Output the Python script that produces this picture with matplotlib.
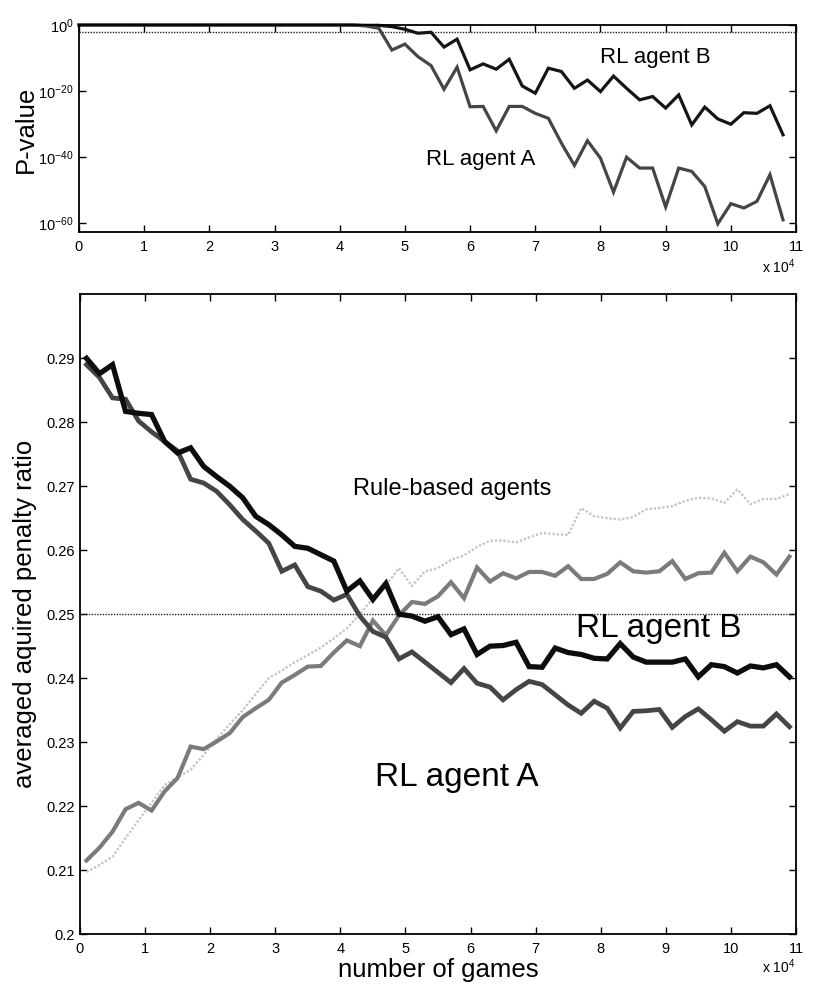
import numpy as np
import matplotlib
matplotlib.use('Agg')
import matplotlib.pyplot as plt
from matplotlib.ticker import FuncFormatter, NullLocator

plt.rcParams['font.family'] = ['Liberation Sans', 'DejaVu Sans']
plt.rcParams['mathtext.fontset'] = 'custom'
plt.rcParams['mathtext.rm'] = 'Liberation Sans'

# ---- P-value of the RL agents vs. rule-based agents (log10 of p) ----
games_p = np.arange(0, 110000, 2000)
log_p_a = [0] * 22 + [-0.3, -1.0, -7.6, -5.8, -9.6, -12.3, -19.5, -12.8, -24.8, -24.7,
                      -32.1, -24.7, -24.7, -26.8, -28.3, -35.8, -42.6, -35.1, -40.4, -50.7,
                      -40.1, -43.4, -43.4, -55.2, -43.4, -44.4, -49.0, -60.3, -54.2, -55.5,
                      -53.5, -45.4, -59.1]
log_p_b = [0] * 22 + [-0.1, -0.1, -0.5, -1.3, -2.5, -2.2, -6.7, -4.3, -13.6, -11.8,
                      -13.4, -10.4, -18.5, -20.7, -13.1, -14.1, -19.2, -16.7, -20.2, -15.5,
                      -19.2, -22.7, -21.7, -25.2, -21.2, -30.3, -24.9, -28.5, -30.1, -26.6,
                      -26.8, -24.5, -33.3]
p_level = 0.01

# ---- averaged aquired penalty ratio ----
games = np.arange(1000, 110000, 2000)
rl_b = [0.2900, 0.2876, 0.2890, 0.2817, 0.2814, 0.2812, 0.2770, 0.2752, 0.2760, 0.2731,
        0.2715, 0.2700, 0.2682, 0.2653, 0.2640, 0.2624, 0.2606, 0.2603, 0.2593, 0.2583,
        0.2536, 0.2552, 0.2523, 0.2548, 0.2500, 0.2497, 0.2489, 0.2496, 0.2468, 0.2477,
        0.2437, 0.2450, 0.2451, 0.2456, 0.2418, 0.2417, 0.2447, 0.2440, 0.2437, 0.2431,
        0.2430, 0.2454, 0.2433, 0.2425, 0.2425, 0.2425, 0.2430, 0.2402, 0.2421, 0.2418,
        0.2408, 0.2419, 0.2416, 0.2421, 0.2402]
rl_a = [0.2890, 0.2870, 0.2838, 0.2836, 0.2802, 0.2785, 0.2770, 0.2755, 0.2711, 0.2705,
        0.2692, 0.2671, 0.2648, 0.2630, 0.2611, 0.2567, 0.2577, 0.2543, 0.2536, 0.2522,
        0.2531, 0.2497, 0.2473, 0.2464, 0.2430, 0.2441, 0.2425, 0.2409, 0.2393, 0.2415,
        0.2392, 0.2386, 0.2366, 0.2382, 0.2395, 0.2390, 0.2374, 0.2358, 0.2345, 0.2364,
        0.2353, 0.2322, 0.2348, 0.2349, 0.2351, 0.2323, 0.2340, 0.2352, 0.2335, 0.2317,
        0.2332, 0.2325, 0.2325, 0.2344, 0.2324]
rule_1 = [0.2115, 0.2135, 0.2160, 0.2195, 0.2205, 0.2193, 0.2223, 0.2244, 0.2293, 0.2289,
          0.2301, 0.2314, 0.2339, 0.2353, 0.2366, 0.2393, 0.2405, 0.2418, 0.2419, 0.2440,
          0.2459, 0.2450, 0.2490, 0.2467, 0.2498, 0.2519, 0.2516, 0.2528, 0.2550, 0.2525,
          0.2573, 0.2551, 0.2564, 0.2556, 0.2566, 0.2566, 0.2560, 0.2575, 0.2555, 0.2555,
          0.2563, 0.2581, 0.2567, 0.2565, 0.2567, 0.2583, 0.2555, 0.2564, 0.2565, 0.2596,
          0.2567, 0.2590, 0.2581, 0.2562, 0.2590]
rule_2 = [0.2097, 0.2108, 0.2121, 0.2150, 0.2178, 0.2205, 0.2233, 0.2245, 0.2257, 0.2280,
          0.2305, 0.2328, 0.2350, 0.2375, 0.2400, 0.2412, 0.2425, 0.2436, 0.2448, 0.2462,
          0.2478, 0.2500, 0.2525, 0.2545, 0.2572, 0.2544, 0.2567, 0.2572, 0.2585, 0.2592,
          0.2605, 0.2615, 0.2615, 0.2612, 0.2620, 0.2627, 0.2625, 0.2624, 0.2666, 0.2653,
          0.2650, 0.2648, 0.2652, 0.2664, 0.2666, 0.2669, 0.2677, 0.2682, 0.2681, 0.2674,
          0.2695, 0.2672, 0.2680, 0.2680, 0.2688]
chance_level = 0.25

xticks = np.arange(0, 120000, 10000)
to_e4 = FuncFormatter(lambda v, pos: '%d' % round(v / 1e4))


def style_axes(ax):
    ax.set_xlim(0, 110000)
    ax.set_xticks(xticks)
    ax.xaxis.set_major_formatter(to_e4)
    ax.tick_params(direction='in', length=5, width=1, top=True, right=True,
                   labelsize=10.5, pad=6)
    ax.tick_params(axis='y', pad=4)
    for s in ax.spines.values():
        s.set_linewidth(1.3)


fig = plt.figure(figsize=(8.28, 9.84), dpi=100)

# top: p-values
ax1 = fig.add_axes([0.0954, 0.7642, 0.866, 0.2104])
ax1.set_yscale('log')
ax1.axhline(p_level, color='#222222', lw=1, ls=(0, (1, 1)))
ax1.plot(games_p, 10.0 ** np.array(log_p_b), color='#151515', lw=2.3,
         solid_joinstyle='miter', clip_on=False)
ax1.plot(games_p, 10.0 ** np.array(log_p_a), color='#454545', lw=2.3,
         solid_joinstyle='miter', clip_on=False)
ax1.set_ylim(10 ** -62.8, 1)
ax1.set_yticks([1e-60, 1e-40, 1e-20, 1e0])
ax1.yaxis.set_minor_locator(NullLocator())
style_axes(ax1)
ax1.text(80000, 10 ** -11.4, 'RL agent B', fontsize=16, va='baseline')
ax1.text(53200, 10 ** -42.4, 'RL agent A', fontsize=16, va='baseline')
fig.text(33 / 828, 1 - 129 / 984, 'P-value', fontsize=18.5, rotation=90,
         ha='center', va='baseline', rotation_mode='anchor')
fig.text(762 / 828, 1 - 273 / 984, r'x 10$^{4}$', fontsize=10)

# bottom: penalty ratio
ax2 = fig.add_axes([0.0966, 0.0508, 0.8647, 0.6501])
ax2.axhline(chance_level, color='#222222', lw=1, ls=(0, (1, 1)))
ax2.plot(games, rule_2, color='#c6c6c6', lw=1.7, ls=(0, (1, 0.8)))
ax2.plot(games, rule_1, color='#7b7b7b', lw=3.0, solid_joinstyle='miter')
ax2.plot(games, rl_a, color='#454545', lw=3.4, solid_joinstyle='miter')
ax2.plot(games, rl_b, color='#0d0d0d', lw=3.8, solid_joinstyle='miter')
ax2.set_ylim(0.2, 0.3)
ax2.set_yticks(np.arange(0.2, 0.2951, 0.01))
ax2.yaxis.set_major_formatter(FuncFormatter(lambda v, pos: ('%.2f' % v).rstrip('0')))
style_axes(ax2)
ax2.text(41900, 0.2687, 'Rule-based agents', fontsize=17, va='baseline')
ax2.text(76200, 0.2465, 'RL agent B', fontsize=24, va='baseline')
ax2.text(45300, 0.2232, 'RL agent A', fontsize=24, va='baseline')
fig.text(438 / 828, 1 - 977 / 984, 'number of games', fontsize=18.5,
         ha='center', va='baseline')
fig.text(32 / 828, 1 - 614 / 984, 'averaged aquired penalty ratio', fontsize=18.5,
         rotation=90, ha='center', va='baseline', rotation_mode='anchor')
fig.text(762 / 828, 1 - 973 / 984, r'x 10$^{4}$', fontsize=10)

fig.savefig('out.png', dpi=100)
